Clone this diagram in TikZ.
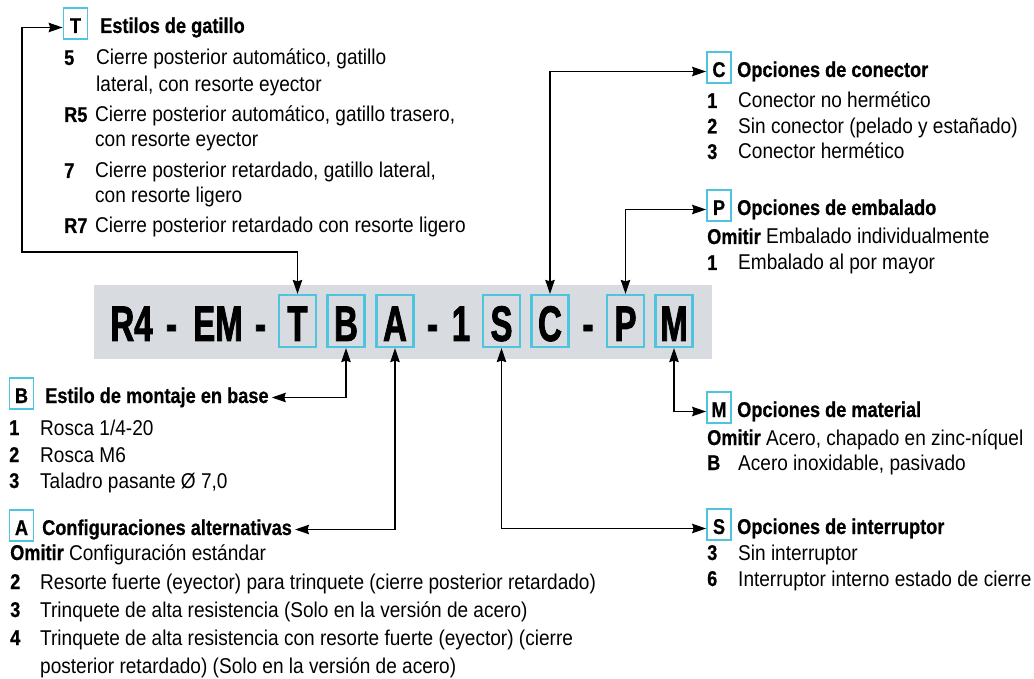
\documentclass[tikz,border=0pt]{standalone}
\usepackage{fontspec}
\setmainfont{Liberation Sans}[FakeStretch=0.89]
\newfontfamily\hdfam{Liberation Sans}[FakeStretch=0.85, BoldFeatures={FakeBold=0.6}]
\newfontfamily\codefam{Liberation Sans}[FakeStretch=0.66, BoldFeatures={FakeBold=1.6}]
\usetikzlibrary{arrows.meta}
\definecolor{barg}{RGB}{216,220,224}
\definecolor{cyanc}{RGB}{78,196,222}
\newcommand\bodyfnt{\fontsize{21.4pt}{25pt}\selectfont}
\newcommand\boldfnt{\hdfam\fontsize{21.4pt}{25pt}\selectfont\bfseries}
\newcommand\om{{\hdfam\bfseries Omitir}}
\newcommand\codefnt{\codefam\fontsize{50pt}{50pt}\selectfont\bfseries}
\tikzset{
  conn/.style={{Stealth[length=14pt,width=9.5pt,inset=1.5pt]}-{Stealth[length=14pt,width=9.5pt,inset=1.5pt]}, line width=1.1pt},
  num/.style={anchor=base west, inner sep=0pt, font=\boldfnt},
  txt/.style={anchor=base west, inner sep=0pt, font=\bodyfnt},
  head/.style={anchor=base west, inner sep=0pt, text height=15pt, text depth=4pt, font=\boldfnt},
  legbox/.style={anchor=base, draw=cyanc, line width=1.8pt, inner sep=0pt, minimum width=24pt, text height=25pt, text depth=6pt, align=center, font=\boldfnt},
  codech/.style={anchor=base, inner sep=0pt, font=\codefnt},
  codebox/.style={anchor=base, draw=cyanc, line width=2.2pt, inner sep=0pt, minimum width=37pt, text height=46pt, text depth=6pt, align=center, font=\codefnt},
}
\begin{document}
\begin{tikzpicture}[x=1pt,y=-1pt]
\useasboundingbox (0,0) rectangle (1034,679);
% code bar
\node[fill=barg, inner sep=0pt, minimum width=618pt, minimum height=74pt] (bar) at (403,322) {};
\node[codech] (c1) at (131.5,341) {R4};
\node[codech] (c2) at (171.5,341) {-};
\node[codech] (c3) at (218,341) {EM};
\node[codech] (c4) at (260.5,341) {-};
\node[codebox] (cT) at (297.5,341) {T};
\node[codebox] (cB) at (346,341) {B};
\node[codebox] (cA) at (395,341) {A};
\node[codech] (c5) at (432.5,341) {-};
\node[codech] (c6) at (461,341) {1};
\node[codebox] (cS) at (501.5,341) {S};
\node[codebox] (cC) at (550,341) {C};
\node[codech] (c7) at (588,341) {-};
\node[codebox] (cP) at (625.5,341) {P};
\node[codebox] (cM) at (674,341) {M};

% T group
\node[legbox] (lT) at (75.5,33) {T};
\node[head] (hT) at (100,33) {Estilos de gatillo};
\node[num] (t1n) at (64,65) {5};
\node[txt] (t1a) at (96,65) {Cierre posterior automático, gatillo};
\node[txt] (t1b) at (96,92) {lateral, con resorte eyector};
\node[num] (t2n) at (64,122) {R5};
\node[txt] (t2a) at (95,122) {Cierre posterior automático, gatillo trasero,};
\node[txt] (t2b) at (95,147) {con resorte eyector};
\node[num] (t3n) at (64,178) {7};
\node[txt] (t3a) at (95,178) {Cierre posterior retardado, gatillo lateral,};
\node[txt] (t3b) at (95,203) {con resorte ligero};
\node[num] (t4n) at (64,233) {R7};
\node[txt] (t4a) at (95,233) {Cierre posterior retardado con resorte ligero};

% C group
\node[legbox] (lC) at (719,77) {C};
\node[head] (hC) at (737,77) {Opciones de conector};
\node[num] (k1n) at (707,108) {1};
\node[txt] (k1a) at (738,108) {Conector no hermético};
\node[num] (k2n) at (707,133.5) {2};
\node[txt] (k2a) at (738,133.5) {Sin conector (pelado y estañado)};
\node[num] (k3n) at (707,159) {3};
\node[txt] (k3a) at (738,159) {Conector hermético};

% P group
\node[legbox] (lP) at (719,215) {P};
\node[head] (hP) at (737,215) {Opciones de embalado};
\node[txt] (p1) at (707,244) {\om{} Embalado individualmente};
\node[num] (p2n) at (707,270) {1};
\node[txt] (p2a) at (738,270) {Embalado al por mayor};

% M group
\node[legbox] (lM) at (719,417) {M};
\node[head] (hM) at (737,417) {Opciones de material};
\node[txt] (m1) at (707,445) {\om{} Acero, chapado en zinc-níquel};
\node[num] (m2n) at (707,470) {B};
\node[txt] (m2a) at (738,470) {Acero inoxidable, pasivado};

% S group
\node[legbox] (lS) at (719,534) {S};
\node[head] (hS) at (737,534) {Opciones de interruptor};
\node[num] (s1n) at (707,560) {3};
\node[txt] (s1a) at (738,560) {Sin interruptor};
\node[num] (s2n) at (707,586) {6};
\node[txt] (s2a) at (738,586) {Interruptor interno estado de cierre};

% B group
\node[legbox] (lB) at (21.5,403) {B};
\node[head] (hB) at (45,403) {Estilo de montaje en base};
\node[num] (b1n) at (9,435) {1};
\node[txt] (b1a) at (40,435) {Rosca 1/4-20};
\node[num] (b2n) at (9,462) {2};
\node[txt] (b2a) at (40,462) {Rosca M6};
\node[num] (b3n) at (9,488) {3};
\node[txt] (b3a) at (40,488) {Taladro pasante Ø 7,0};

% A group
\node[legbox] (lA) at (21.5,535) {A};
\node[head] (hA) at (42,535) {Configuraciones alternativas};
\node[txt] (a1) at (10,560) {\om{} Configuración estándar};
\node[num] (a2n) at (10,589) {2};
\node[txt] (a2a) at (40,589) {Resorte fuerte (eyector) para trinquete (cierre posterior retardado)};
\node[num] (a3n) at (10,617) {3};
\node[txt] (a3a) at (40,617) {Trinquete de alta resistencia (Solo en la versión de acero)};
\node[num] (a4n) at (10,645) {4};
\node[txt] (a4a) at (40,645) {Trinquete de alta resistencia con resorte fuerte (eyector) (cierre};
\node[txt] (a4b) at (40,673) {posterior retardado) (Solo en la versión de acero)};

% connectors
\coordinate (tcorner) at (22,252);
\draw[conn] (cT.north) |- (tcorner) |- (lT.west |- hT.east);
\draw[conn] (cC.north) |- (lC.west |- hC.east);
\draw[conn] (cP.north) |- (lP.west |- hP.east);
\draw[conn] (cB.south) |- ([xshift=3pt]hB.east);
\draw[conn] (cA.south) |- ([xshift=3pt]hA.east);
\draw[conn] (cS.south) |- (lS.west |- hS.east);
\draw[conn] (cM.south) |- (lM.west |- hM.east);
\end{tikzpicture}
\end{document}
